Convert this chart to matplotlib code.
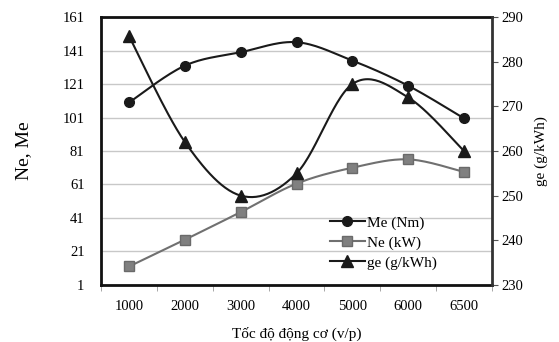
import numpy as np
import matplotlib.pyplot as plt
from matplotlib.lines import Line2D

plt.rcParams['font.family'] = ['Liberation Serif', 'DejaVu Serif']

speeds = ['1000', '2000', '3000', '4000', '5000', '6000', '6500']
me = [110, 132, 140, 146, 135, 120, 100.5]
ne = [12, 28, 44.5, 61.5, 71, 76, 68.5]
ge = [285.7, 262, 250, 255, 275, 272, 260]


def smooth(x, y, n=30):
    # Catmull-Rom style bezier smoothing between points
    x = np.asarray(x, float)
    y = np.asarray(y, float)
    px = np.concatenate([[x[0]], x, [x[-1]]])
    py = np.concatenate([[y[0]], y, [y[-1]]])
    xs, ys = [], []
    t = np.linspace(0, 1, n)
    for i in range(1, len(px) - 2):
        p0 = np.array([px[i], py[i]])
        p3 = np.array([px[i + 1], py[i + 1]])
        c1 = p0 + (p3 - np.array([px[i - 1], py[i - 1]])) / 6
        c2 = p3 - (np.array([px[i + 2], py[i + 2]]) - p0) / 6
        b = ((1 - t) ** 3)[:, None] * p0 + (3 * (1 - t) ** 2 * t)[:, None] * c1 \
            + (3 * (1 - t) * t ** 2)[:, None] * c2 + (t ** 3)[:, None] * p3
        xs.append(b[:, 0])
        ys.append(b[:, 1])
    return np.concatenate(xs), np.concatenate(ys)


x = np.arange(len(speeds))

fig = plt.figure(figsize=(5.59, 3.42), dpi=100)
ax = fig.add_axes([0.181, 0.167, 0.699, 0.783])
ax2 = ax.twinx()

sx, sy = smooth(x, me)
ax.plot(sx, sy, color='#1a1a1a', lw=1.5, zorder=3)
ax.plot(x, me, 'o', color='#1a1a1a', ms=7, zorder=4)

sx, sy = smooth(x, ne)
ax.plot(sx, sy, color='#707070', lw=1.5, zorder=3)
ax.plot(x, ne, 's', color='#808080', mec='#6a6a6a', ms=7.5, zorder=4)

sx, sy = smooth(x, ge)
ax2.plot(sx, sy, color='#1a1a1a', lw=1.5, zorder=3)
ax2.plot(x, ge, '^', color='#1a1a1a', ms=8, zorder=4)

ax.set_xlim(-0.5, len(speeds) - 0.5)
ax.set_ylim(1, 161)
ax.set_yticks(np.arange(1, 162, 20))
ax2.set_ylim(230, 290)
ax2.set_yticks(np.arange(230, 291, 10))

ax.set_xticks(x)
ax.set_xticklabels(speeds)
ax.set_xticks(np.arange(-0.5, len(speeds)), minor=True)
ax.tick_params(axis='x', which='major', length=0, pad=11, labelsize=10.5)
ax.tick_params(axis='x', which='minor', length=4, color='#999999')
ax.tick_params(axis='y', length=0, pad=12, labelsize=10.5)
ax2.tick_params(axis='y', length=4, color='#555555', labelsize=10.5, pad=3)

ax.grid(axis='y', color='#c8c8c8', lw=1)
ax.set_axisbelow(True)

for s in ['left', 'top', 'bottom']:
    ax.spines[s].set_linewidth(2)
    ax.spines[s].set_color('#111111')
for s in ['left', 'top', 'bottom']:
    ax2.spines[s].set_visible(False)
ax2.spines['right'].set_linewidth(2)
ax2.spines['right'].set_color('#333333')
ax.spines['right'].set_visible(False)

ax.set_ylabel('Ne, Me', fontsize=14, labelpad=22)
ax2.set_ylabel('ge (g/kWh)', fontsize=11, labelpad=8)
ax.set_xlabel('Tốc độ động cơ (v/p)', fontsize=11, labelpad=10)

handles = [
    Line2D([], [], color='#1a1a1a', lw=1.5, marker='o', ms=7),
    Line2D([], [], color='#707070', lw=1.5, marker='s', mfc='#808080', mec='#6a6a6a', ms=7.5),
    Line2D([], [], color='#1a1a1a', lw=1.5, marker='^', ms=8),
]
ax2.legend(handles, ['Me (Nm)', 'Ne (kW)', 'ge (g/kWh)'], loc='lower left',
           bbox_to_anchor=(0.55, 0.005), frameon=False,
           prop={'family': ['Liberation Serif'], 'size': 11},
           handlelength=2.3, handletextpad=0.1, labelspacing=0.4)

fig.savefig('out.png', dpi=100)
